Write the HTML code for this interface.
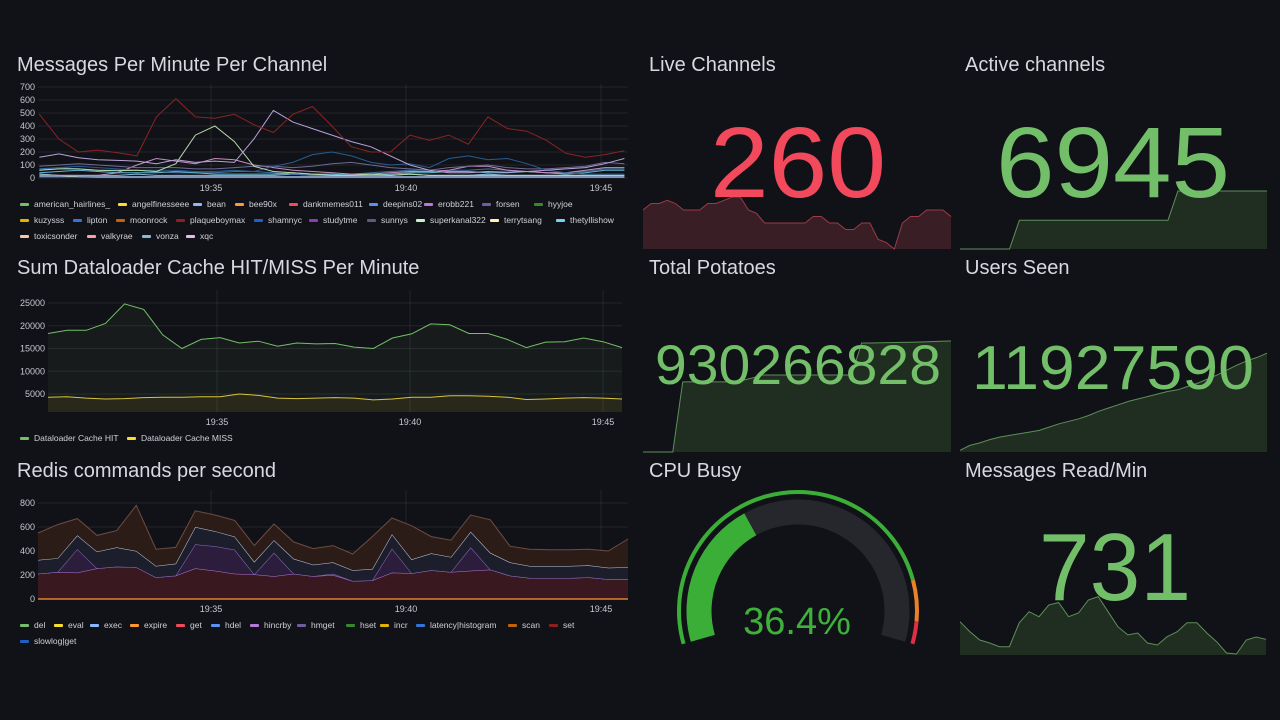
<!DOCTYPE html>
<html><head><meta charset="utf-8">
<style>
html,body{margin:0;padding:0;background:#111217;width:1280px;height:720px;overflow:hidden;font-family:"Liberation Sans",sans-serif;}
svg{display:block}
</style></head>
<body>
<svg id="s" width="1280" height="720" xmlns="http://www.w3.org/2000/svg">
<rect width="1280" height="720" fill="#111217"/>
<g font-family="Liberation Sans, sans-serif" fill="#d8d9e0" font-size="20">
<text x="17" y="71">Messages Per Minute Per Channel</text>
<text x="17" y="274">Sum Dataloader Cache HIT/MISS Per Minute</text>
<text x="17" y="477">Redis commands per second</text>
<text x="649" y="71">Live Channels</text>
<text x="965" y="71">Active channels</text>
<text x="649" y="274">Total Potatoes</text>
<text x="965" y="274">Users Seen</text>
<text x="649" y="477">CPU Busy</text>
<text x="965" y="477">Messages Read/Min</text>
</g>
<g id="g1"></g>
<g id="g2"></g>
<g id="g3"></g>
<g id="g4"></g>
<g id="g5"></g>
</svg>
<script>
// ---------- Chart 1 data ----------
const c1Times = [0.6,1.1,1.6,2.1,2.6,3.1,3.6,4.1,4.6,5.1,5.6,6.1,6.6,7.1,7.6,8.1,8.6,9.1,9.6,10.1,10.6,11.1,11.6,12.1,12.6,13.1,13.6,14.1,14.6,15.1,15.6];
const c1Ticks = [0,100,200,300,400,500,600,700];
const c1TimeTicks = [5,10,15];
const c1TimeLabels = ["19:35","19:40","19:45"];
const c1Names = ["plaqueboymax","studytme","superkanal322","shamnyc","forsen","xqc","thetyllishow","lipton","vonza","bean","angelfinesseee"];
const c1Colors = ["#8a2323","#b9a3dc","#b7dbab","#285c8e","#6f6a95","#c78fc4","#5fb8cf","#3f6fa3","#8ab8d8","#9cc2f0","#d9b93a"];
const c1Plaqueboymax = [490,300,200,215,195,170,470,610,470,460,490,410,350,490,550,400,240,200,200,330,290,330,260,470,380,360,290,190,160,180,210];
const c1Studytme = [160,185,155,140,135,130,110,140,120,130,120,300,520,430,380,330,280,240,170,100,60,40,40,50,45,50,60,70,80,110,150];
const c1Superkanal = [60,70,70,60,55,60,50,110,330,400,280,90,50,40,30,20,20,30,20,30,20,20,20,20,20,20,20,20,20,20,20];
const c1Shamnyc = [60,80,90,80,70,60,60,60,50,50,60,50,90,120,180,200,170,120,100,110,80,150,170,140,150,110,60,40,30,30,30];
const c1Forsen = [90,100,110,100,90,80,80,80,70,70,80,90,90,80,90,110,120,100,80,70,60,80,90,100,80,70,70,80,90,120,110];
const c1Xqc = [20,20,20,20,40,100,150,130,110,150,140,100,80,60,50,40,30,30,40,50,50,60,90,90,60,50,40,40,60,80,80];
const c1Thetyllishow = [40,50,60,50,40,40,40,50,40,30,30,30,30,40,30,30,20,20,30,40,40,50,50,40,40,50,40,30,40,60,60];
const c1Lipton = [70,80,70,60,60,60,50,40,40,40,50,50,40,30,20,20,30,40,50,60,50,60,60,70,60,50,40,40,50,70,70];
const c1Vonza = [30,20,20,20,20,30,20,20,20,20,20,20,20,30,20,20,20,20,20,30,20,20,20,30,20,20,20,20,20,20,20];
const c1Bean = [10,10,10,10,10,10,10,10,10,10,10,10,10,10,10,10,10,10,10,10,10,10,10,10,10,10,10,10,10,10,10];
const c1Angel = [30,20,10,5,5,5,5,5,5,5,5,5,5,5,5,5,5,5,5,5,5,5,5,5,5,5,5,5,5,5,5];
const c1Series = [c1Plaqueboymax,c1Studytme,c1Superkanal,c1Shamnyc,c1Forsen,c1Xqc,c1Thetyllishow,c1Lipton,c1Vonza,c1Bean,c1Angel];

const c1Legend = [
 ["american_hairlines_","#73bf69",20,204],["angelfinesseee","#fade2a",118,204],["bean","#8ab8ff",193,204],["bee90x","#ff9830",235,204],["dankmemes011","#f2495c",289,204],["deepins02","#5794f2",369,204],["erobb221","#b877d9",424,204],["forsen","#705da0",482,204],["hyyjoe","#37872d",534,204],
 ["kuzysss","#e0b400",20,220],["lipton","#3274d9",73,220],["moonrock","#c4620c",116,220],["plaqueboymax","#8f1f1f",176,220],["shamnyc","#1f60c4",254,220],["studytme","#8f3bb8",309,220],["sunnys","#5c5a80",367,220],["superkanal322","#c8f2c2",416,220],["terrytsang","#fff4b3",490,220],["thetyllishow","#73d3f0",556,220],
 ["toxicsonder","#f9c7a0",20,236],["valkyrae","#ff9ea8",87,236],["vonza","#8ab8d8",142,236],["xqc","#ecb8f0",186,236]
];

// ---------- Chart 2 data ----------
const c2Ticks = [5000,10000,15000,20000,25000];
const c2TimeTicks = [5,10,15];
const c2TimeLabels = ["19:35","19:40","19:45"];
const c2Hit = [18300,19000,19000,20500,24800,23600,18000,15000,17000,17400,16200,16600,15500,16200,16000,16100,15300,15000,17300,18200,20400,20200,18300,18300,17000,15200,16400,16500,17300,16500,15200];
const c2Miss = [4300,4400,4100,3900,4000,4200,4300,4300,4400,4400,5000,4700,4100,4000,4100,4200,4100,3700,3900,4300,4300,4600,4600,4500,4300,3800,3900,4100,4200,4100,3900];

// ---------- Chart 3 data ----------
const c3Ticks = [0,200,400,600,800];
const c3TimeTicks = [5,10,15];
const c3TimeLabels = ["19:35","19:40","19:45"];
const c3Hincrby = [210,225,220,255,270,265,180,195,255,235,210,205,190,210,190,200,150,155,220,215,240,225,235,245,195,175,175,175,180,165,165];
const c3Hmget = [0,0,195,0,0,0,0,0,200,205,200,0,195,0,0,10,0,0,200,0,0,0,195,0,0,0,0,0,0,0,0];
const c3Exec = [115,115,115,140,160,135,95,100,145,125,110,105,105,125,95,95,90,95,120,115,140,125,130,140,110,100,100,100,100,95,100];
const c3Set = [225,280,140,135,140,380,140,135,135,135,135,135,135,140,135,140,135,270,135,280,140,140,140,275,135,140,135,135,135,140,235];
const c3Legend = [["del","#73bf69",20,625],["eval","#fade2a",54,625],["exec","#8ab8ff",90,625],["expire","#ff9830",130,625],["get","#f2495c",176,625],["hdel","#5794f2",211,625],["hincrby","#b877d9",250,625],["hmget","#705da0",297,625],["hset","#37872d",346,625],["incr","#e0b400",380,625],["latency|histogram","#3274d9",416,625],["scan","#c4620c",508,625],["set","#8f1f1f",549,625],["slowlog|get","#1f60c4",20,641]];

// ---------- Stat data ----------
const liveChannels = [262,266,266,268,266,262,262,262,266,266,268,270,270,262,260,254,254,254,254,254,254,258,258,254,254,250,250,254,254,244,242,238,254,258,258,262,262,262,258];
const activeChannels = [6000,6000,6000,6000,6000,6000,6470,6470,6470,6470,6470,6470,6470,6470,6470,6470,6470,6470,6470,6470,6470,6470,6945,6945,6945,6945,6945,6945,6945,6945,6945,6945];
const totalPotatoes = [0,0,0,0,587,587,587,587,587,587,600,620,645,645,645,645,645,645,645,645,645,645,913,913,915,917,918,920,922,925,928,930];
const usersSeen = [0.2,0.8,1.1,1.5,1.8,2.0,2.2,2.4,2.6,3.0,3.4,3.7,4.0,4.4,4.9,5.3,5.7,6.1,6.4,6.7,7.0,7.3,7.5,7.9,8.3,8.8,9.3,9.9,10.5,11.0,11.4,11.9];
const messagesRead = [877,794,725,700,669,669,867,961,919,1017,1036,919,950,1058,1086,961,836,767,783,700,683,753,794,869,869,783,711,617,608,725,750,731];
const statValues = ["260","6945","930266828","11927590","731"];
const cpuValue = 36.4;

const NS = "http://www.w3.org/2000/svg";
function mk(tag, attrs, parent){const e=document.createElementNS(NS,tag);for(const k in attrs)e.setAttribute(k,attrs[k]);parent.appendChild(e);return e;}
function pathD(xs, ys){return xs.map((x,i)=>(i?"L":"M")+x.toFixed(1)+","+ys[i].toFixed(1)).join("");}

function axes(g, left, right, top, bottom, ticks, Y, tickX, timeTicks, timeLabels, X, xlabY, name){
  ticks.forEach(v=>{
    const y=Y(v);
    const l=mk("line",{x1:left,x2:right,y1:y,y2:y,stroke:"#ffffff",'stroke-opacity':0.08},g);
    
    
    const t=mk("text",{x:tickX,y:y+3,'text-anchor':'end','font-size':9,fill:'#c7c8d0'},g);
    t.textContent=v;
    
    
  });
  timeTicks.forEach((tt,i)=>{
    const x=X(tt);
    const l=mk("line",{x1:x,x2:x,y1:top,y2:bottom,stroke:"#ffffff",'stroke-opacity':0.08},g);
    
    
    const t=mk("text",{x:x,y:xlabY,'text-anchor':'middle','font-size':9,fill:'#c7c8d0'},g);
    t.textContent=timeLabels[i];
    
    
  });
}
function legend(g, items, name){
  items.forEach(it=>{
    const r=mk("rect",{x:it[2],y:it[3]-1,width:9,height:3,rx:1,fill:it[1]},g);
    
    
    const t=mk("text",{x:it[2]+14,y:it[3]+3,'font-size':8.5,fill:'#d0d1d8'},g);
    t.textContent=it[0];
    
    
  });
}

// Chart 1
(function(){
  const g=document.getElementById("g1");
  const X=t=>211+(t-5)*39, Y=v=>178-v*0.13;
  axes(g,38,628,84,178,c1Ticks,Y,35,c1TimeTicks,c1TimeLabels,X,191,'messages');
  const clip=mk("clipPath",{id:"cp1"},g); mk("rect",{x:38,y:80,width:590,height:100},clip);
  const xs=c1Times.map(X);
  for(let i=c1Series.length-1;i>=0;i--){
    const p=mk("path",{d:pathD(xs,c1Series[i].map(Y)),fill:"none",stroke:c1Colors[i],'stroke-width':1,'clip-path':'url(#cp1)'},g);
    
    
  }
  legend(g,c1Legend,'messages');
})();

// Chart 2
(function(){
  const g=document.getElementById("g2");
  const X=t=>217+(t-5)*38.6, Y=v=>394-(v-5000)*0.00455;
  axes(g,48,622,290,412,c2Ticks,Y,45,c2TimeTicks,c2TimeLabels,X,425,'cache');
  const t0=(48-217)/38.6+5, step=(622-48)/38.6/(c2Hit.length-1);
  const xs=c2Hit.map((_,i)=>X(t0+i*step));
  const base=412;
  const hy=c2Hit.map(Y), my=c2Miss.map(Y);
  const a1=mk("path",{d:pathD(xs,hy)+"L"+xs[xs.length-1]+","+base+"L"+xs[0]+","+base+"Z",fill:"#73bf69",'fill-opacity':0.06},g);
  
  
  const a2=mk("path",{d:pathD(xs,my)+"L"+xs[xs.length-1]+","+base+"L"+xs[0]+","+base+"Z",fill:"#fade2a",'fill-opacity':0.08},g);
  
  
  const l1=mk("path",{d:pathD(xs,hy),fill:"none",stroke:"#73bf69",'stroke-width':1},g);
  
  
  const l2=mk("path",{d:pathD(xs,my),fill:"none",stroke:"#d8c43a",'stroke-width':1},g);
  
  
  legend(g,[["Dataloader Cache HIT","#73bf69",20,438],["Dataloader Cache MISS","#fade2a",127,438]],'cache');
})();

// Chart 3
(function(){
  const g=document.getElementById("g3");
  const X=t=>211+(t-5)*39, Y=v=>599-v*0.12;
  axes(g,38,628,490,599,c3Ticks,Y,35,c3TimeTicks,c3TimeLabels,X,612,'redis');
  const t0=(38-211)/39+5, step=(628-38)/39/(c3Hincrby.length-1);
  const xs=c3Hincrby.map((_,i)=>X(t0+i*step));
  const layers=[c3Hincrby,c3Hmget,c3Exec,c3Set];
  const fills=["#3a1820","#2c1d3c","#1d1e2b","#2b1c18"];
  const strokes=["#b877d9","#8a72c8","#c0cde0","#6e4c40"];
  const names=["hincrby","hmget","exec","set"];
  let prev=xs.map(()=>0);
  layers.forEach((arr,li)=>{
    const cur=arr.map((v,i)=>v+prev[i]);
    const top=cur.map(Y), bot=prev.map(Y);
    let d=pathD(xs,top);
    for(let i=xs.length-1;i>=0;i--) d+="L"+xs[i].toFixed(1)+","+bot[i].toFixed(1);
    const a=mk("path",{d:d+"Z",fill:fills[li]},g);
    
    
    const l=mk("path",{d:pathD(xs,top),fill:"none",stroke:strokes[li],'stroke-width':1},g);
    
    
    prev=cur;
  });
  const z=mk("line",{x1:38,x2:628,y1:Y(0),y2:Y(0),stroke:"#ff9830",'stroke-width':1.2},g);
  
  
  legend(g,c3Legend,'redis');
})();

// Stats
(function(){
  const g=document.getElementById("g4");
  function spark(arr,x0,x1,yTop,yBot,vmin,vmax,col,fillCol,name){
    const xs=arr.map((_,i)=>x0+i*(x1-x0)/(arr.length-1));
    const ys=arr.map(v=>yBot-(v-vmin)/(vmax-vmin)*(yBot-yTop));
    const a=mk("path",{d:pathD(xs,ys)+"L"+x1+","+yBot+"L"+x0+","+yBot+"Z",fill:fillCol},g);
    
    
    const l=mk("path",{d:pathD(xs,ys),fill:"none",stroke:col,'stroke-width':1},g);
    
    
  }
  function big(txt,x,y,size,w,col,name){
    const t=mk("text",{x:x,y:y,'text-anchor':'middle','font-size':size,fill:col,textLength:w,lengthAdjust:'spacingAndGlyphs'},g);
    t.textContent=txt;
    
    
  }
  spark(liveChannels,643,951,197,249,238,270,"#9c3a46","#3a1e26",'live-channels');
  spark(activeChannels,960,1267,191,249,6000,6945,"#5d8f58","#1f2e20",'active-channels');
  spark(totalPotatoes,643,951,341,452,0,930,"#5d8f58","#1f2e20",'total-potatoes');
  spark(usersSeen,960,1267,353,452,0,11.93,"#5d8f58","#1f2e20",'users-seen');
  spark(messagesRead,960,1266,597,655,600,1083,"#5d8f58","#1f2e20",'messages-read');
  big(statValues[0],798,197,100,176,"#f2495c",'live-channels-value');
  big(statValues[1],1113,197,100,234,"#73bf69",'active-channels-value');
  big(statValues[2],798,384,56,286,"#73bf69",'total-potatoes-value');
  big(statValues[3],1113,389,62,282,"#73bf69",'users-seen-value');
  big(statValues[4],1115,600,96,152,"#73bf69",'messages-read-value');
})();

// Gauge
(function(){
  const g=document.getElementById("g5");
  const cx=798, cy=611, A=106;
  function pt(r,deg){const a=deg*Math.PI/180;return [cx+r*Math.sin(a), cy-r*Math.cos(a)];}
  function arc(r,d1,d2){const p1=pt(r,d1),p2=pt(r,d2);return "M"+p1[0]+","+p1[1]+"A"+r+","+r+" 0 "+((d2-d1)>180?1:0)+" 1 "+p2[0]+","+p2[1];}
  const bg=mk("path",{d:arc(99,-A,A),fill:"none",stroke:"#25272d",'stroke-width':25},g);
  
  
  const vEnd=-A+cpuValue/100*2*A;
  const fg=mk("path",{d:arc(99,-A,vEnd),fill:"none",stroke:"#3bae37",'stroke-width':25},g);
  
  
  const th=[[-A,75,"#3bae37"],[75,95,"#e8822a"],[95,A,"#e02f44"]];
  th.forEach(t=>{
    const p=mk("path",{d:arc(119,t[0],t[1]),fill:"none",stroke:t[2],'stroke-width':4},g);
    
    
  });
  const tx=mk("text",{x:797,y:634,'text-anchor':'middle','font-size':38,fill:"#3eb13b"},g);
  tx.textContent=cpuValue.toFixed(1)+"%";
  
  
})();
</script>
</body></html>
